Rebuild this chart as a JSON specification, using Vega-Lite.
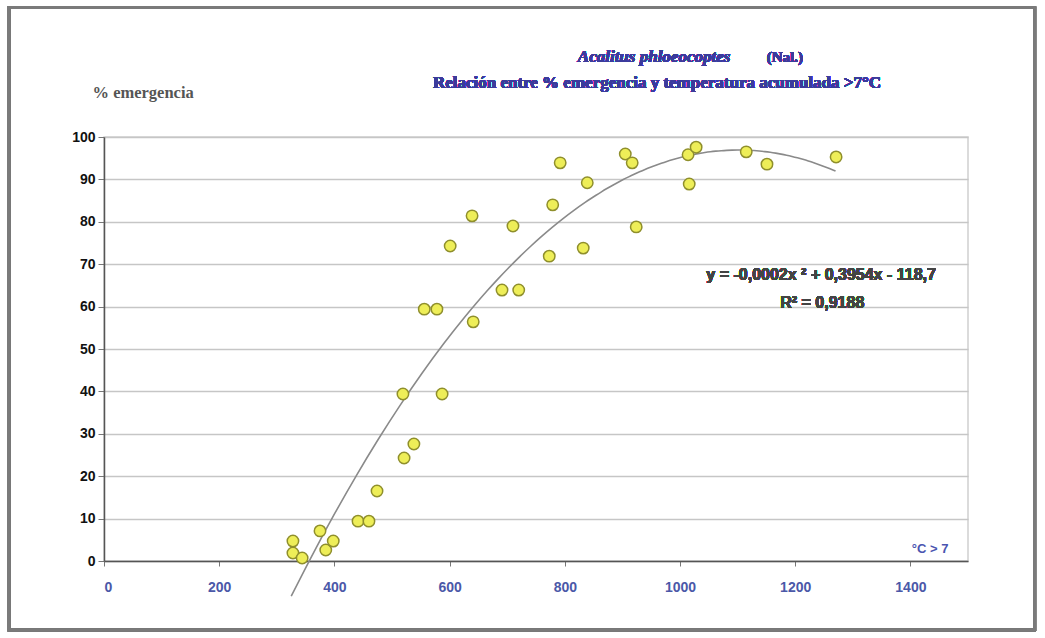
{
  "$schema": "https://vega.github.io/schema/vega-lite/v6.json",
  "autosize": "none",
  "width": 864,
  "height": 424,
  "padding": {"left": 104, "top": 137, "right": 77, "bottom": 77},
  "background": "white",
  "config": {
    "view": {"stroke": "#cfcfcf", "strokeWidth": 1.5},
    "axis": {"labelFont": "Liberation Sans", "labelFontWeight": "bold", "labelFontSize": 14}
  },
  "data": {
    "values": [
      {"x": 328, "y": 4.7}, {"x": 328, "y": 1.9}, {"x": 344, "y": 0.7},
      {"x": 375, "y": 7.1}, {"x": 385, "y": 2.6}, {"x": 398, "y": 4.7},
      {"x": 441, "y": 9.4}, {"x": 460, "y": 9.4}, {"x": 474, "y": 16.5},
      {"x": 521, "y": 24.3}, {"x": 538, "y": 27.6}, {"x": 519, "y": 39.4},
      {"x": 587, "y": 39.4}, {"x": 556, "y": 59.4}, {"x": 578, "y": 59.4},
      {"x": 601, "y": 74.3}, {"x": 639, "y": 81.4}, {"x": 641, "y": 56.4},
      {"x": 691, "y": 63.9}, {"x": 720, "y": 63.9}, {"x": 710, "y": 79.0},
      {"x": 773, "y": 71.9}, {"x": 779, "y": 84.0}, {"x": 792, "y": 93.9},
      {"x": 832, "y": 73.8}, {"x": 839, "y": 89.2}, {"x": 905, "y": 96.0},
      {"x": 917, "y": 93.9}, {"x": 924, "y": 78.8}, {"x": 1014, "y": 95.8},
      {"x": 1016, "y": 88.9}, {"x": 1028, "y": 97.6}, {"x": 1115, "y": 96.5},
      {"x": 1151, "y": 93.6}, {"x": 1271, "y": 95.3}
    ]
  },
  "layer": [
    {
      "mark": {"type": "rect", "fill": null, "stroke": "#7a7a7a", "strokeWidth": 2.5, "clip": false},
      "encoding": {
        "x": {"datum": -165, "type": "quantitative"},
        "x2": {"datum": 1616},
        "y": {"datum": -16.3, "type": "quantitative"},
        "y2": {"datum": 130.5}
      }
    },
    {
      "transform": [{"regression": "y", "on": "x", "method": "poly", "order": 2, "extent": [325, 1270]}],
      "mark": {"type": "line", "color": "#8a8a8a", "strokeWidth": 1.6, "clip": false, "interpolate": "monotone"},
      "encoding": {
        "x": {"field": "x", "type": "quantitative"},
        "y": {"field": "y", "type": "quantitative"}
      }
    },
    {
      "mark": {"type": "point", "shape": "circle", "filled": true, "fill": "#eeee58", "stroke": "#8f8f2c", "strokeWidth": 1.5, "size": 130, "opacity": 1},
      "encoding": {
        "x": {
          "field": "x", "type": "quantitative",
          "scale": {"domain": [0, 1500], "nice": false, "zero": false},
          "axis": {
            "values": [0, 200, 400, 600, 800, 1000, 1200, 1400],
            "format": "d",
            "grid": false,
            "domainColor": "#555555", "domainWidth": 1.5,
            "tickColor": "#777777", "tickSize": 5,
            "labelColor": "#4b58a8", "labelPadding": 14,
            "title": "°C > 7",
            "titleFont": "Liberation Sans", "titleFontSize": 13, "titleFontWeight": "bold",
            "titleColor": "#4a55b0", "titleAlign": "right", "titleBaseline": "middle",
            "titleX": 844, "titleY": -13
          }
        },
        "y": {
          "field": "y", "type": "quantitative",
          "scale": {"domain": [0, 100], "nice": false, "zero": false},
          "axis": {
            "values": [0, 10, 20, 30, 40, 50, 60, 70, 80, 90, 100],
            "grid": true, "gridColor": "#c6c6c6", "gridWidth": 1.5,
            "domainColor": "#555555", "domainWidth": 1.5,
            "tickColor": "#777777", "tickSize": 6,
            "labelColor": "#111111", "labelPadding": 3,
            "title": "% emergencia",
            "titleFont": "Liberation Serif", "titleFontSize": 16.5, "titleFontWeight": "bold",
            "titleColor": "#555555", "titleAngle": 0, "titleAlign": "left", "titleBaseline": "middle",
            "titleX": -12, "titleY": -45
          }
        }
      }
    },
    {
      "mark": {"type": "text", "font": "Liberation Serif", "fontSize": 17, "fontStyle": "italic", "fontWeight": "bold", "color": "#3b3b9c", "align": "center", "baseline": "middle"},
      "encoding": {
        "x": {"datum": 955, "type": "quantitative"},
        "y": {"datum": 118.9, "type": "quantitative"},
        "text": {"value": "Acalitus phloeocoptes"}
      }
    },
    {
      "mark": {"type": "text", "font": "Liberation Serif", "fontSize": 15, "fontWeight": "bold", "color": "#3b3b9c", "align": "center", "baseline": "middle"},
      "encoding": {
        "x": {"datum": 1182, "type": "quantitative"},
        "y": {"datum": 118.9, "type": "quantitative"},
        "text": {"value": "(Nal.)"}
      }
    },
    {
      "mark": {"type": "text", "font": "Liberation Serif", "fontSize": 17, "fontWeight": "bold", "color": "#3b3b9c", "align": "center", "baseline": "middle"},
      "encoding": {
        "x": {"datum": 960, "type": "quantitative"},
        "y": {"datum": 112.7, "type": "quantitative"},
        "text": {"value": "Relación entre % emergencia y temperatura acumulada >7°C"}
      }
    },
    {
      "mark": {"type": "text", "font": "Liberation Sans", "fontSize": 16, "fontWeight": "bold", "color": "#444444", "align": "center", "baseline": "middle"},
      "encoding": {
        "x": {"datum": 1245, "type": "quantitative"},
        "y": {"datum": 67.5, "type": "quantitative"},
        "text": {"value": "y = -0,0002x ² + 0,3954x - 118,7"}
      }
    },
    {
      "mark": {"type": "text", "font": "Liberation Sans", "fontSize": 16, "fontWeight": "bold", "color": "#444444", "align": "center", "baseline": "middle"},
      "encoding": {
        "x": {"datum": 1247, "type": "quantitative"},
        "y": {"datum": 60.8, "type": "quantitative"},
        "text": {"value": "R² = 0,9188"}
      }
    }
  ]
}
